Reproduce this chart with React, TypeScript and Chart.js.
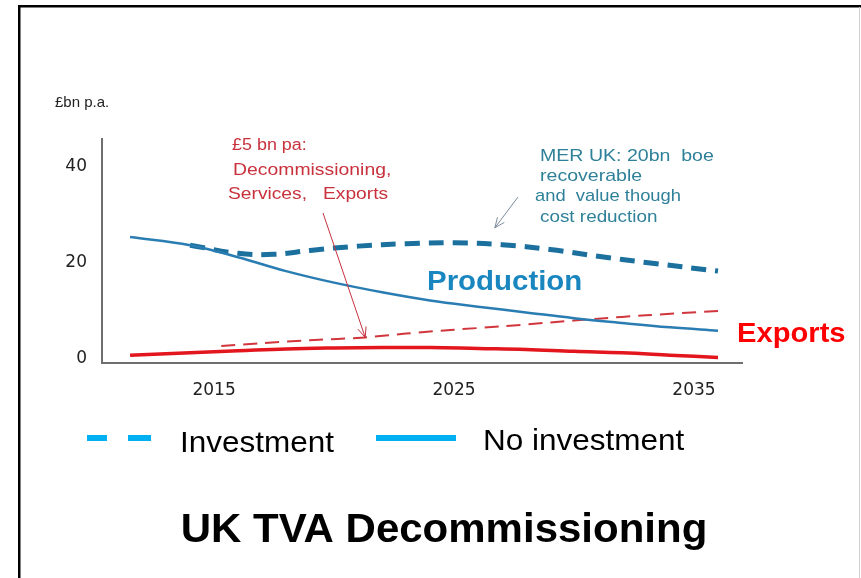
import React, { useEffect, useRef } from "react";
import { Chart, registerables } from "chart.js";

Chart.register(...registerables);

// ---- Data (years, £bn p.a.) ----
const noInvProdYears = [2011.5, 2014, 2016, 2018, 2020, 2022, 2024, 2026, 2028, 2030, 2032, 2034, 2036];
const noInvProdValues = [25.4, 23.7, 21.2, 18.3, 15.9, 13.9, 12.2, 10.9, 9.7, 8.5, 7.5, 6.6, 5.9];

const invProdYears = [2014, 2016, 2017.5, 2019, 2021, 2023, 2025, 2027, 2029, 2031, 2033, 2036];
const invProdValues = [23.7, 22.0, 21.8, 22.6, 23.5, 24.0, 24.2, 23.8, 22.8, 21.4, 20.1, 18.3];

const noInvExpYears = [2011.5, 2014, 2016, 2018, 2020, 2022, 2024, 2026, 2028, 2030, 2032, 2034, 2036];
const noInvExpValues = [0.8, 1.3, 1.7, 2.1, 2.3, 2.4, 2.4, 2.2, 2.0, 1.6, 1.3, 0.8, 0.3];

const invExpYears = [2015.3, 2017, 2019, 2021.3, 2023, 2025, 2027, 2029, 2031, 2033, 2036];
const invExpValues = [2.7, 3.3, 3.9, 4.5, 5.3, 6.1, 6.8, 7.6, 8.4, 9.1, 10.0];

const xTickValues = [2015, 2025, 2035];
const yTickValues = [0, 20, 40];

const unitLabel = "£bn p.a.";
const redNote = ["£5 bn pa:", "Decommissioning,", "Services,   Exports"];
const tealNote = ["MER UK: 20bn  boe", "recoverable", "and  value though", "cost reduction"];
const productionLabel = "Production";
const exportsLabel = "Exports";
const legendLabels = ["Investment", "No investment"];
const titleText = "UK TVA Decommissioning";

const FONT = "'Liberation Sans', Arial, sans-serif";

const toPoints = (xs: number[], ys: number[]) => xs.map((x, i) => ({ x, y: ys[i] }));

function sText(
  ctx: CanvasRenderingContext2D,
  text: string,
  x: number,
  y: number,
  font: string,
  color: string,
  sx: number,
  align: "left" | "center" = "left"
) {
  ctx.save();
  ctx.font = font;
  ctx.fillStyle = color;
  ctx.textBaseline = "alphabetic";
  ctx.textAlign = "left";
  ctx.translate(x, y);
  ctx.scale(sx, 1);
  let dx = 0;
  if (align === "center") dx = -ctx.measureText(text).width / 2;
  ctx.fillText(text, dx, 0);
  ctx.restore();
}

function arrow(ctx: CanvasRenderingContext2D, x1: number, y1: number, x2: number, y2: number, color: string, w: number) {
  ctx.save();
  ctx.strokeStyle = color;
  ctx.lineWidth = w;
  ctx.beginPath();
  ctx.moveTo(x1, y1);
  ctx.lineTo(x2, y2);
  const a = Math.atan2(y2 - y1, x2 - x1);
  const L = 11;
  const s = 0.4;
  ctx.moveTo(x2 - L * Math.cos(a - s), y2 - L * Math.sin(a - s));
  ctx.lineTo(x2, y2);
  ctx.lineTo(x2 - L * Math.cos(a + s), y2 - L * Math.sin(a + s));
  ctx.stroke();
  ctx.restore();
}

const decorPlugin = {
  id: "decor",
  beforeDraw(chart: any) {
    const ctx = chart.ctx as CanvasRenderingContext2D;
    ctx.save();
    ctx.fillStyle = "#ffffff";
    ctx.fillRect(0, 0, chart.width, chart.height);
    ctx.fillStyle = "#000000";
    ctx.fillRect(18, 5, chart.width - 18, 2.5);
    ctx.fillRect(18, 5, 2.5, chart.height - 5);
    ctx.fillStyle = "#d0d0d0";
    ctx.fillRect(859, 7, 1, chart.height - 7);
    ctx.restore();
  },
  afterDraw(chart: any) {
    const ctx = chart.ctx as CanvasRenderingContext2D;
    const xs = chart.scales.x;
    const ys = chart.scales.y;

    // unit label
    sText(ctx, unitLabel, 55, 107, `15px ${FONT}`, "#222222", 1.0);

    // red annotation
    const red = "#c8323d";
    sText(ctx, redNote[0], 232, 150, `16px ${FONT}`, red, 1.12);
    sText(ctx, redNote[1], 233, 175, `17px ${FONT}`, red, 1.14);
    sText(ctx, redNote[2], 228, 199, `17px ${FONT}`, red, 1.13);
    arrow(ctx, 323, 213, xs.getPixelForValue(2021.3), ys.getPixelForValue(4.5), red, 1);

    // teal annotation
    const teal = "#2f8099";
    sText(ctx, tealNote[0], 540, 161, `17px ${FONT}`, teal, 1.15);
    sText(ctx, tealNote[1], 540, 181, `17px ${FONT}`, teal, 1.15);
    sText(ctx, tealNote[2], 535, 201, `17px ${FONT}`, teal, 1.08);
    sText(ctx, tealNote[3], 540, 222, `17px ${FONT}`, teal, 1.11);
    arrow(ctx, 518, 197, xs.getPixelForValue(2026.7), ys.getPixelForValue(27.3), "#7c8b9a", 1);

    // series labels
    sText(ctx, productionLabel, 427, 290, `bold 27px ${FONT}`, "#1a86c0", 1.09);
    sText(ctx, exportsLabel, 737, 342, `bold 27px ${FONT}`, "#ff0000", 1.08);

    // legend
    ctx.save();
    ctx.strokeStyle = "#00b0f0";
    ctx.lineWidth = 6;
    ctx.beginPath();
    ctx.moveTo(87, 438);
    ctx.lineTo(107, 438);
    ctx.moveTo(128, 438);
    ctx.lineTo(151, 438);
    ctx.moveTo(376, 438);
    ctx.lineTo(456, 438);
    ctx.stroke();
    ctx.restore();
    sText(ctx, legendLabels[0], 180, 452, `30px ${FONT}`, "#000000", 1.05);
    sText(ctx, legendLabels[1], 483, 450, `30px ${FONT}`, "#000000", 1.05);

    // title
    sText(ctx, titleText, 444, 542, `bold 40px ${FONT}`, "#000000", 1.05, "center");
  },
};

export default function App() {
  const ref = useRef<HTMLCanvasElement | null>(null);

  useEffect(() => {
    const prevMargin = document.body.style.margin;
    document.body.style.margin = "0";
    const canvas = ref.current!;
    const chart = new Chart(canvas, {
      type: "line",
      data: {
        datasets: [
          {
            label: "Production – no investment",
            data: toPoints(noInvProdYears, noInvProdValues),
            borderColor: "#2a7db2",
            borderWidth: 2.5,
            pointRadius: 0,
            tension: 0.4,
            fill: false,
          },
          {
            label: "Production – investment",
            data: toPoints(invProdYears, invProdValues),
            borderColor: "#1b709e",
            borderWidth: 5,
            borderDash: [15, 9],
            pointRadius: 0,
            tension: 0.4,
            fill: false,
          },
          {
            label: "Exports – no investment",
            data: toPoints(noInvExpYears, noInvExpValues),
            borderColor: "#e3151d",
            borderWidth: 3.5,
            pointRadius: 0,
            tension: 0.4,
            fill: false,
          },
          {
            label: "Exports – investment",
            data: toPoints(invExpYears, invExpValues),
            borderColor: "#d0363c",
            borderWidth: 2,
            borderDash: [14, 8],
            pointRadius: 0,
            tension: 0.3,
            fill: false,
          },
        ],
      },
      options: {
        responsive: false,
        animation: false,
        events: [],
        layout: { padding: { left: 0, right: 119, top: 139, bottom: 0 } },
        plugins: {
          legend: { display: false },
          tooltip: { enabled: false },
          title: { display: false },
        },
        scales: {
          x: {
            type: "linear",
            min: 2010.33,
            max: 2037,
            grid: { display: false, drawTicks: false },
            border: { display: true, color: "#6f6f6f", width: 2 },
            afterBuildTicks: (scale: any) => {
              scale.ticks = xTickValues.map((v) => ({ value: v }));
            },
            afterFit: (scale: any) => {
              scale.height = 215;
            },
            ticks: {
              padding: 17,
              color: "#222222",
              font: { family: "'DejaVu Sans', sans-serif", size: 17 },
              maxRotation: 0,
              autoSkip: false,
              callback: (v: any) => String(v),
            },
          },
          y: {
            type: "linear",
            min: -0.83,
            max: 45.8,
            grid: { display: false, drawTicks: false },
            border: { display: true, color: "#6f6f6f", width: 2 },
            afterBuildTicks: (scale: any) => {
              scale.ticks = yTickValues.map((v) => ({ value: v }));
            },
            afterFit: (scale: any) => {
              scale.width = 102;
            },
            ticks: {
              padding: 15,
              color: "#222222",
              font: { family: "'DejaVu Sans', sans-serif", size: 17 },
              autoSkip: false,
              callback: (v: any) => String(v),
            },
          },
        },
      },
      plugins: [decorPlugin],
    } as any);
    return () => {
      chart.destroy();
      document.body.style.margin = prevMargin;
    };
  }, []);

  return (
    <div style={{ position: "absolute", left: 0, top: 0, width: 861, height: 578 }}>
      <canvas ref={ref} width={861} height={578} style={{ display: "block" }} />
    </div>
  );
}
